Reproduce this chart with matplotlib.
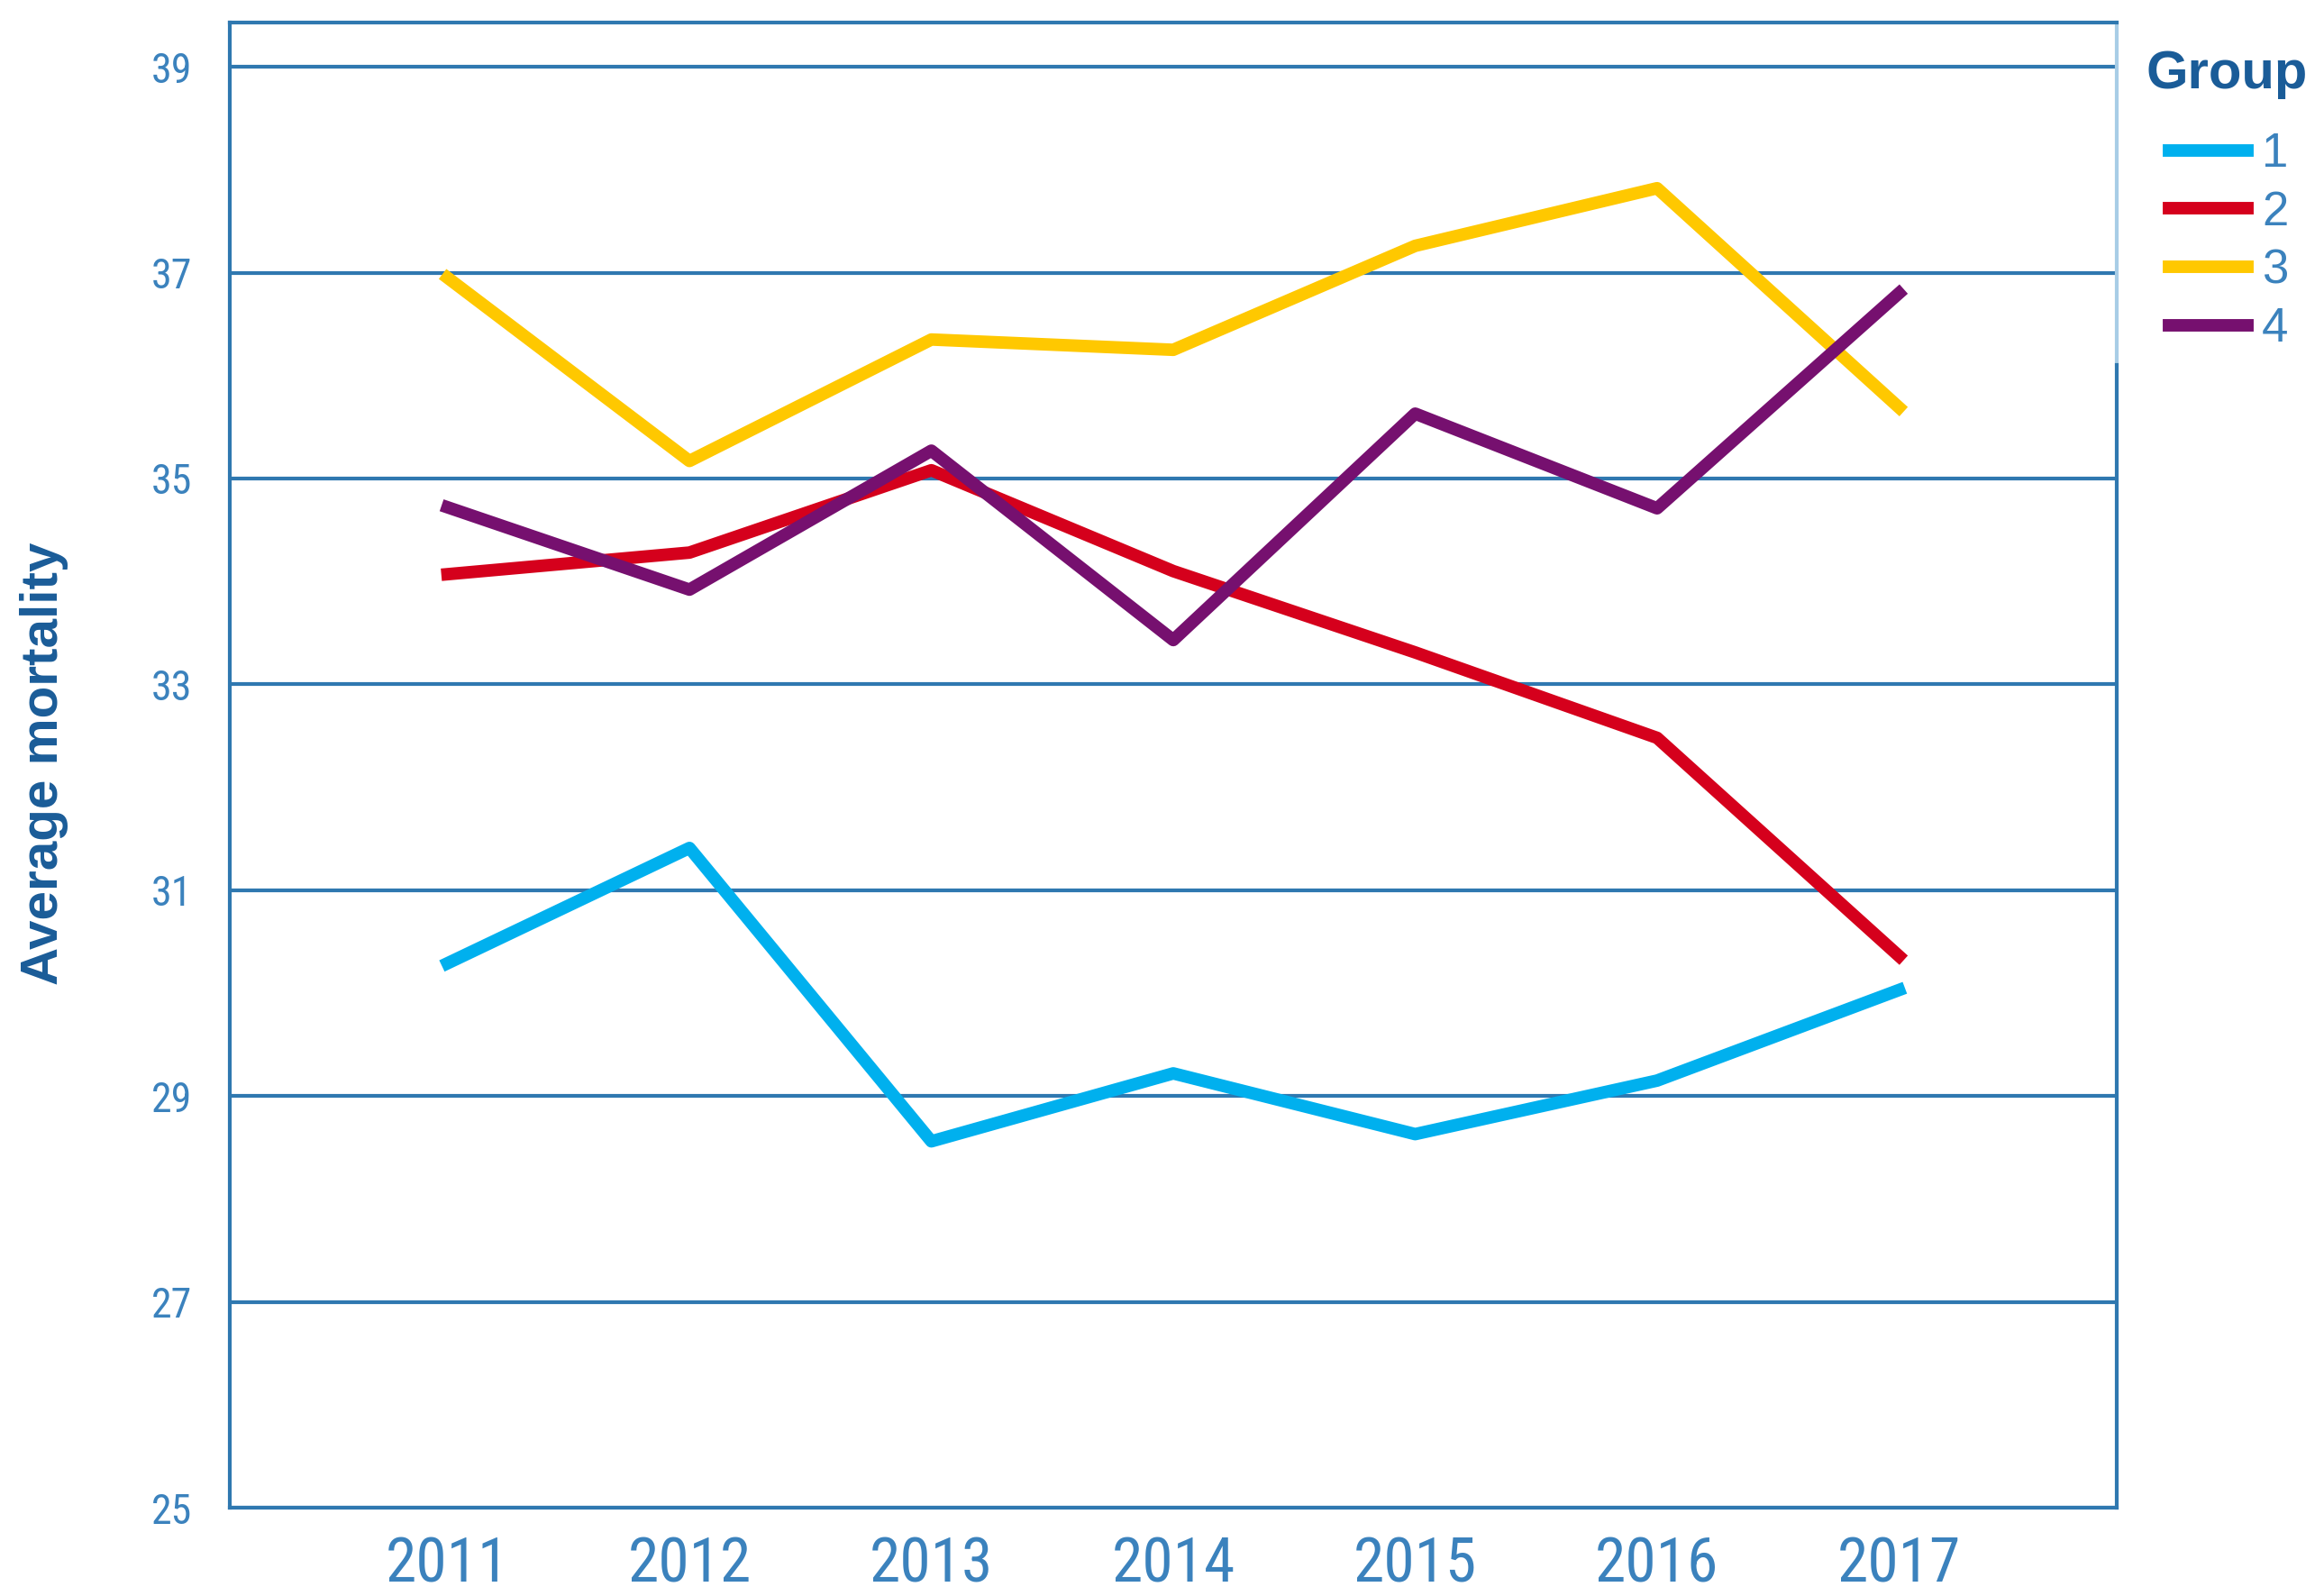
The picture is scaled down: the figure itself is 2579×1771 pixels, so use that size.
import matplotlib.pyplot as plt

# data
years = ['2011', '2012', '2013', '2014', '2015', '2016', '2017']
groups = ['1', '2', '3', '4']
group1 = [30.29, 31.41, 28.56, 29.22, 28.63, 29.15, 30.03]
group2 = [34.07, 34.28, 35.08, 34.10, 33.31, 32.48, 30.36]
group3 = [36.95, 35.17, 36.35, 36.25, 37.26, 37.82, 35.69]
group4 = [34.72, 33.92, 35.27, 33.43, 35.63, 34.71, 36.80]
yticks = [25, 27, 29, 31, 33, 35, 37, 39]

colors = ['#00b0ee', '#d5001c', '#ffc800', '#76106f']
grid_col = '#2f78b0'
tick_col = '#3b82bd'
label_col = '#1a5c98'

narrow = ['Roboto Condensed', 'Archivo Narrow', 'DejaVu Sans']
plt.rcParams['font.family'] = ['Liberation Sans', 'DejaVu Sans']

fig = plt.figure(figsize=(25.79, 17.71), dpi=100)
ax = fig.add_axes([0.0989, 0.0553, 0.8119, 0.9306])

x = list(range(1, len(years) + 1))
for vals, c, g in zip([group1, group2, group3, group4], colors, groups):
    ax.plot(x, vals, color=c, lw=10, label=g)

ax.set_xlim(0.1, 7.9)
ax.set_ylim(25, 39.43)
ax.set_xticks(x)
ax.set_xticklabels(years, fontfamily=narrow, fontsize=50, color=tick_col)
ax.set_yticks(yticks)
ax.set_yticklabels([str(v) for v in yticks], fontfamily=narrow, fontsize=33, color=tick_col)
ax.tick_params(axis='x', length=0, pad=22)
ax.tick_params(axis='y', length=0, pad=30)
ax.yaxis.grid(True, color=grid_col, lw=3)
ax.set_axisbelow(True)

for s in ['left', 'bottom', 'top', 'right']:
    ax.spines[s].set_color(grid_col)
    ax.spines[s].set_linewidth(3)
ax.spines['right'].set_bounds(25, 36.1)
ax.axvline(7.9, ymin=(36.1 - 25) / 14.43, ymax=1, color='#a8cde6', lw=3, clip_on=False)

fig.text(0.019, 1 - 847 / 1771, 'Average mortality', rotation=90, ha='center', va='center',
         fontsize=42, fontweight='bold', color=label_col)

# legend
fig.text(2382 / 2579, 1 - 82 / 1771, 'Group', ha='left', va='center',
         fontsize=43, fontweight='bold', color=label_col)
leg = ax.legend(loc='upper left', bbox_to_anchor=(2407 / 2579, 1 - 146 / 1771),
                bbox_transform=fig.transFigure, frameon=False, borderpad=0, borderaxespad=0,
                fontsize=38, handlelength=1.65, handletextpad=0.3, labelspacing=0.28)
for t in leg.get_texts():
    t.set_color(tick_col)
for h in leg.get_lines():
    h.set_linewidth(10)

fig.savefig('out.png', dpi=100)
